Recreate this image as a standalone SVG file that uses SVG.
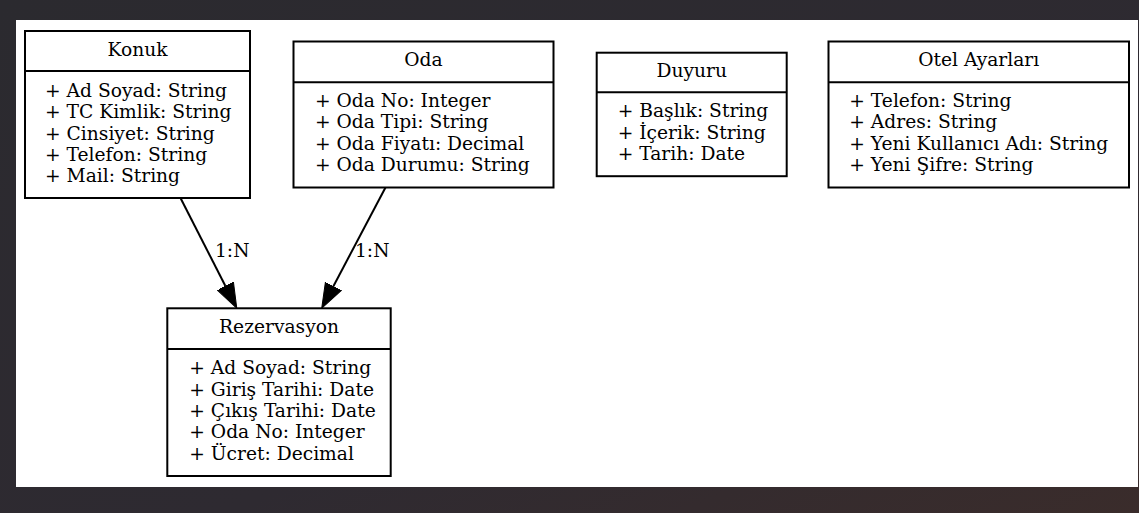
<svg xmlns="http://www.w3.org/2000/svg" width="1139" height="513" viewBox="0 0 1139 513">
  <defs>
    <linearGradient id="bg" x1="0" y1="0" x2="1" y2="1">
      <stop offset="0" stop-color="#2b2a2f"/>
      <stop offset="0.6" stop-color="#2e2a31"/>
      <stop offset="1" stop-color="#3a2c2b"/>
    </linearGradient>
    <marker id="arrow" markerUnits="userSpaceOnUse" markerWidth="26" markerHeight="20" refX="0" refY="10" orient="auto" viewBox="0 0 26 20">
      <path d="M0,1 L25,10 L0,19 z" fill="#000" stroke="#000" stroke-width="1"/>
    </marker>
  </defs>
  <style>
    .box { fill: #fff; stroke: #000; stroke-width: 2; }
    .div { stroke: #000; stroke-width: 2; }
    .title { font-family: "DejaVu Serif", serif; font-size: 18.67px; text-anchor: middle; fill: #000; }
    .attr { font-family: "DejaVu Serif", serif; font-size: 18.67px; fill: #000; }
    .edge { stroke: #000; stroke-width: 2; fill: none; }
    .lbl { font-family: "DejaVu Serif", serif; font-size: 18.67px; fill: #000; }
  </style>
  <rect x="0" y="0" width="1139" height="513" fill="url(#bg)"/>
  <rect x="16" y="20" width="1122" height="467" fill="#fff"/>

  <g id="connectors">
    <line class="edge" x1="180.5" y1="198" x2="225.4" y2="286" marker-end="url(#arrow)"/>
    <line class="edge" x1="385.5" y1="187.5" x2="333.4" y2="286.2" marker-end="url(#arrow)"/>
    <text class="lbl" x="215" y="257">1:N</text>
    <text class="lbl" x="355" y="257">1:N</text>
  </g>

  <g id="konuk">
    <rect class="box" x="25" y="31" width="225" height="167"/>
    <line class="div" x1="25" y1="71" x2="250" y2="71"/>
    <text class="title" x="137.5" y="55.5">Konuk</text>
    <text class="attr" x="45" y="97">+ Ad Soyad: String</text>
    <text class="attr" x="45" y="118.3">+ TC Kimlik: String</text>
    <text class="attr" x="45" y="139.7">+ Cinsiyet: String</text>
    <text class="attr" x="45" y="161">+ Telefon: String</text>
    <text class="attr" x="45" y="182.3">+ Mail: String</text>
  </g>

  <g id="oda">
    <rect class="box" x="293.5" y="41.5" width="260" height="146"/>
    <line class="div" x1="293.5" y1="82.3" x2="553.5" y2="82.3"/>
    <text class="title" x="423.5" y="66.3">Oda</text>
    <text class="attr" x="315" y="107">+ Oda No: Integer</text>
    <text class="attr" x="315" y="128.3">+ Oda Tipi: String</text>
    <text class="attr" x="315" y="149.7">+ Oda Fiyatı: Decimal</text>
    <text class="attr" x="315" y="171">+ Oda Durumu: String</text>
  </g>

  <g id="duyuru">
    <rect class="box" x="596.7" y="52.7" width="190" height="123.5"/>
    <line class="div" x1="596.7" y1="92.3" x2="786.7" y2="92.3"/>
    <text class="title" x="691.7" y="77.3">Duyuru</text>
    <text class="attr" x="617.7" y="117.3">+ Başlık: String</text>
    <text class="attr" x="617.7" y="138.7">+ İçerik: String</text>
    <text class="attr" x="617.7" y="160">+ Tarih: Date</text>
  </g>

  <g id="otel-ayarlari">
    <rect class="box" x="828.5" y="41.5" width="300.5" height="146"/>
    <line class="div" x1="828.5" y1="82.3" x2="1129" y2="82.3"/>
    <text class="title" x="978.7" y="66.3">Otel Ayarları</text>
    <text class="attr" x="849.3" y="107">+ Telefon: String</text>
    <text class="attr" x="849.3" y="128.3">+ Adres: String</text>
    <text class="attr" x="849.3" y="149.7">+ Yeni Kullanıcı Adı: String</text>
    <text class="attr" x="849.3" y="171">+ Yeni Şifre: String</text>
  </g>

  <g id="rezervasyon">
    <rect class="box" x="167.3" y="308.3" width="223.4" height="167.7"/>
    <line class="div" x1="167.3" y1="349" x2="390.7" y2="349"/>
    <text class="title" x="279" y="333.3">Rezervasyon</text>
    <text class="attr" x="189.3" y="374.3">+ Ad Soyad: String</text>
    <text class="attr" x="189.3" y="395.7">+ Giriş Tarihi: Date</text>
    <text class="attr" x="189.3" y="417">+ Çıkış Tarihi: Date</text>
    <text class="attr" x="189.3" y="438.3">+ Oda No: Integer</text>
    <text class="attr" x="189.3" y="459.7">+ Ücret: Decimal</text>
  </g>
</svg>
